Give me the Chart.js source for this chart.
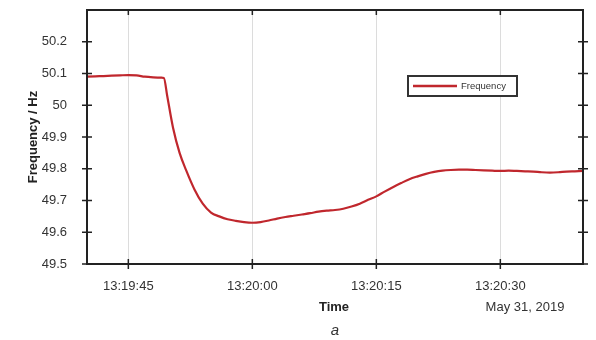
<!DOCTYPE html>
<html lang="en">
<head>
<meta charset="UTF-8">
<title>Frequency</title>
<script src="https://cdn.jsdelivr.net/npm/chart.js"></script>
<style>
    body{ margin:0; padding:0; background:#fff; }
    .wrap{ position:relative; width:596px; height:340px; }
</style>
</head>
<body>
<div class="wrap"><canvas id="freqChart" width="596" height="340"></canvas></div>

<script>
// seconds after 13:19:40
const times = [0,1,2,3,4,5,6,7,8,9,9.3,9.7,10.4,11.2,12,13,14,15,16,17,18,19,20,
               21,22,23,24,25,26,27,28,29,30,31,32,33,34,35,36,37,38,39,40,
               41,42,43,44,45,46,47,48,49,50,51,52,53,54,55,56,57,58,59,60];
const freq  = [50.090,50.091,50.092,50.093,50.094,50.095,50.094,50.090,50.088,50.087,50.086,50.030,49.930,49.850,49.795,49.735,49.690,49.662,49.650,49.641,49.636,49.632,49.630,
               49.632,49.637,49.643,49.648,49.652,49.656,49.660,49.665,49.668,49.670,49.674,49.681,49.690,49.702,49.713,49.728,49.742,49.755,49.767,49.776,
               49.784,49.790,49.794,49.796,49.797,49.797,49.796,49.795,49.794,49.793,49.794,49.793,49.792,49.791,49.789,49.788,49.789,49.791,49.792,49.793];

const xTickValues = [5,20,35,50];
const xTickLabels = ['13:19:45','13:20:00','13:20:15','13:20:30'];
const yTickValues = [49.5,49.6,49.7,49.8,49.9,50,50.1,50.2];
const yTickLabels = ['49.5','49.6','49.7','49.8','49.9','50','50.1','50.2'];

const lineColor = '#c0272d';
const font = 'Liberation Sans, Arial, sans-serif';

// frame, tick marks, legend and extra texts
const framePlugin = {
    id:'frame',
    afterDraw(chart){
        const {ctx, chartArea:a, scales:{x, y}} = chart;
        ctx.save();
        ctx.strokeStyle = '#222';
        ctx.lineWidth = 2;
        ctx.strokeRect(a.left, a.top, a.right - a.left, a.bottom - a.top);
        ctx.lineWidth = 1.5;
        ctx.beginPath();
        xTickValues.forEach(v=>{
            const px = x.getPixelForValue(v);
            ctx.moveTo(px, a.bottom - 5); ctx.lineTo(px, a.bottom + 5);
            ctx.moveTo(px, a.top); ctx.lineTo(px, a.top + 5);
        });
        yTickValues.forEach(v=>{
            const py = y.getPixelForValue(v);
            ctx.moveTo(a.left - 5, py); ctx.lineTo(a.left + 5, py);
            ctx.moveTo(a.right - 5, py); ctx.lineTo(a.right + 5, py);
        });
        ctx.stroke();

        // legend
        ctx.fillStyle = '#fff';
        ctx.fillRect(408, 76, 109, 20);
        ctx.strokeStyle = '#333';
        ctx.lineWidth = 2;
        ctx.strokeRect(408, 76, 109, 20);
        ctx.strokeStyle = lineColor;
        ctx.lineWidth = 2.5;
        ctx.beginPath(); ctx.moveTo(413, 86); ctx.lineTo(457, 86); ctx.stroke();
        ctx.fillStyle = '#333';
        ctx.font = '9.5px ' + font;
        ctx.textBaseline = 'middle';
        ctx.textAlign = 'left';
        ctx.fillText('Frequency', 461, 86);

        // axis titles
        ctx.fillStyle = '#222';
        ctx.textAlign = 'center';
        ctx.font = 'bold 13px ' + font;
        ctx.fillText('Time', 334, 307);
        ctx.font = '13px ' + font;
        ctx.fillStyle = '#333';
        ctx.fillText('May 31, 2019', 525, 307);
        ctx.font = 'italic 15px ' + font;
        ctx.fillText('a', 335, 331);
        ctx.save();
        ctx.translate(33, 137);
        ctx.rotate(-Math.PI/2);
        ctx.fillStyle = '#222';
        ctx.font = 'bold 13px ' + font;
        ctx.fillText('Frequency / Hz', 0, 0);
        ctx.restore();
        ctx.restore();
    }
};

new Chart(document.getElementById('freqChart').getContext('2d'), {
    type:'line',
    data:{
        datasets:[{
            label:'Frequency',
            data:times.map((t,i)=>({x:t, y:freq[i]})),
            borderColor:lineColor,
            borderWidth:2.2,
            pointRadius:0,
            cubicInterpolationMode:'monotone',
            fill:false
        }]
    },
    options:{
        responsive:false,
        animation:false,
        layout:{ padding:{ left:0, right:13, top:10, bottom:0 } },
        plugins:{ legend:{ display:false }, tooltip:{ enabled:false } },
        scales:{
            x:{
                type:'linear', min:0, max:60,
                afterBuildTicks: s => { s.ticks = xTickValues.map(v=>({value:v})); },
                afterFit: s => { s.height = 76; s.paddingLeft = 0; s.paddingRight = 0; },
                grid:{ color:'#dcdcdc', lineWidth:1, drawTicks:false },
                border:{ display:false },
                ticks:{
                    padding:15, color:'#333', maxRotation:0,
                    font:{ family:font, size:13 },
                    callback: v => xTickLabels[xTickValues.indexOf(v)]
                }
            },
            y:{
                type:'linear', min:49.5, max:50.3,
                afterBuildTicks: s => { s.ticks = yTickValues.map(v=>({value:v})); },
                afterFit: s => { s.width = 87; s.paddingTop = 0; s.paddingBottom = 0; },
                grid:{ display:false },
                border:{ display:false },
                ticks:{
                    padding:12, color:'#333',
                    font:{ family:font, size:13 },
                    callback: v => yTickLabels[yTickValues.findIndex(t=>Math.abs(t-v)<1e-6)]
                }
            }
        }
    },
    plugins:[framePlugin]
});
</script>
</body>
</html>
